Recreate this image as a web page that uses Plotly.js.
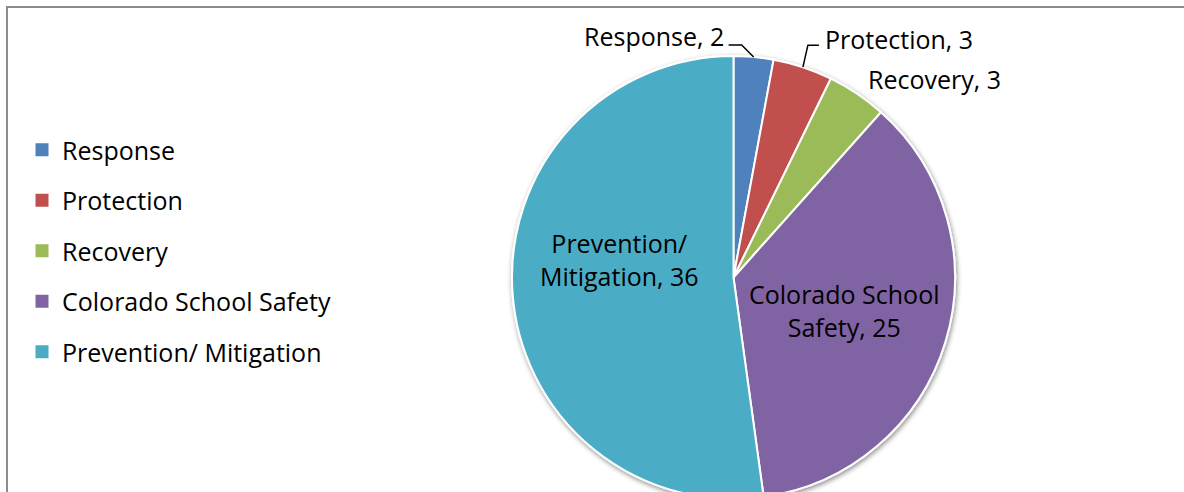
<!DOCTYPE html>
<html>
<head>
<meta charset="utf-8">
<script src="https://cdn.plot.ly/plotly-3.0.1.min.js"></script>
<style>
  html, body { margin: 0; padding: 0; overflow: hidden; background: #fff; }
  #chart { width: 1184px; height: 540px; }
</style>
</head>
<body>
<div id="chart"></div>
<script>
// ---- data ----
const categories = ['Response', 'Protection', 'Recovery', 'Colorado School Safety', 'Prevention/ Mitigation'];
const sliceNames = ['Response', 'Protection', 'Recovery', 'Colorado School<br>Safety', 'Prevention/<br>Mitigation'];
const counts = [2, 3, 3, 25, 36];
const colors = ['#4F81BD', '#C0504D', '#9BBB59', '#8064A2', '#4BACC6'];

// ---- layout geometry (styling, not data) ----
const W = 1184, H = 540;
const FONT = '"Open Sans", Lato, sans-serif';
const FS = 25;
const pieLeft = 512, pieRight = 955, pieTop = 56, pieBottom = 499;
const cx = (pieLeft + pieRight) / 2, cy = (pieTop + pieBottom) / 2;
const R = Math.min(pieRight - pieLeft, pieBottom - pieTop) / 2;

// label placement per slice: radius fraction, pixel nudge, anchor, leader elbow offsets
const labelStyle = [
  { f: 1.0, dx: -28, dy: -21, xa: 'right', lead: [[-12, -12], [-25, -12]] },
  { f: 1.0, dx: 20, dy: -28, xa: 'left', lead: [[5, -22], [16, -22]] },
  { f: 1.0, dx: 9, dy: -15, xa: 'left', lead: null },
  { f: 0.52, dx: 0, dy: -1, xa: 'center', lead: null },
  { f: 0.52, dx: 1, dy: -26, xa: 'center', lead: null }
];

const px2x = p => p / W;
const px2y = p => 1 - p / H;

const total = counts.reduce((a, b) => a + b, 0);
let cum = 0;
const annotations = [];
const shapes = [];
counts.forEach((v, i) => {
  const mid = (cum + v / 2) / total * 2 * Math.PI;
  cum += v;
  const st = labelStyle[i];
  const ex = cx + st.f * R * Math.sin(mid);
  const ey = cy - st.f * R * Math.cos(mid);
  annotations.push({
    xref: 'paper', yref: 'paper',
    x: px2x(ex + st.dx), y: px2y(ey + st.dy),
    xanchor: st.xa, yanchor: 'middle', align: 'center',
    text: sliceNames[i] + ', ' + v,
    showarrow: false,
    font: { family: FONT, size: FS, color: '#000' }
  });
  if (st.lead) {
    const pts = [[ex, ey]].concat(st.lead.map(d => [ex + d[0], ey + d[1]]));
    shapes.push({
      type: 'path', xref: 'paper', yref: 'paper',
      path: pts.map((p, k) => (k ? 'L' : 'M') + px2x(p[0]) + ',' + px2y(p[1])).join(' '),
      line: { color: '#000', width: 1.5 }
    });
  }
});

shapes.push({
  type: 'rect', xref: 'paper', yref: 'paper',
  x0: 7 / W, x1: 1.02, y0: -0.05, y1: 1 - 7 / H,
  line: { color: '#8c8c8c', width: 2 }, fillcolor: 'rgba(0,0,0,0)', layer: 'below'
});

const pie = {
  type: 'pie',
  labels: categories,
  values: counts,
  textinfo: 'none',
  sort: false,
  direction: 'clockwise',
  rotation: 0,
  marker: { colors: colors, line: { color: '#ffffff', width: 2 } },
  showlegend: false,
  hoverinfo: 'label+value',
  domain: { x: [pieLeft / W, pieRight / W], y: [1 - pieBottom / H, 1 - pieTop / H] }
};

const legendTraces = categories.map((c, i) => ({
  type: 'scatter',
  mode: 'markers',
  x: [null], y: [null],
  name: c,
  legendgroup: 'g' + i,
  marker: { symbol: 'square', size: 13, color: colors[i] },
  hoverinfo: 'skip'
}));

const layout = {
  width: W, height: H,
  margin: { l: 0, r: 0, t: 0, b: 0 },
  paper_bgcolor: '#fff', plot_bgcolor: 'rgba(0,0,0,0)',
  xaxis: { visible: false, domain: [0, 0.01] },
  yaxis: { visible: false, domain: [0, 0.01] },
  showlegend: true,
  legend: {
    x: 22 / W, xanchor: 'left',
    y: 1 - 127 / H, yanchor: 'top',
    traceorder: 'grouped',
    tracegroupgap: 15,
    font: { family: FONT, size: FS, color: '#000' },
    bgcolor: 'rgba(0,0,0,0)'
  },
  annotations: annotations,
  shapes: shapes
};

Plotly.newPlot('chart', [pie].concat(legendTraces), layout, { displayModeBar: false, staticPlot: true }).then(gd => {
  const svg = gd.querySelector('svg.main-svg');
  const ns = 'http://www.w3.org/2000/svg';
  let defs = svg.querySelector('defs');
  if (!defs) { defs = document.createElementNS(ns, 'defs'); svg.insertBefore(defs, svg.firstChild); }
  const filt = document.createElementNS(ns, 'filter');
  filt.setAttribute('id', 'pieShadow');
  filt.setAttribute('x', '-10%'); filt.setAttribute('y', '-10%');
  filt.setAttribute('width', '120%'); filt.setAttribute('height', '120%');
  const ds = document.createElementNS(ns, 'feDropShadow');
  ds.setAttribute('dx', '1'); ds.setAttribute('dy', '2');
  ds.setAttribute('stdDeviation', '2.5');
  ds.setAttribute('flood-color', '#000'); ds.setAttribute('flood-opacity', '0.45');
  filt.appendChild(ds);
  defs.appendChild(filt);
  const pl = svg.querySelector('.pielayer');
  if (pl) pl.setAttribute('filter', 'url(#pieShadow)');
});
</script>
</body>
</html>
